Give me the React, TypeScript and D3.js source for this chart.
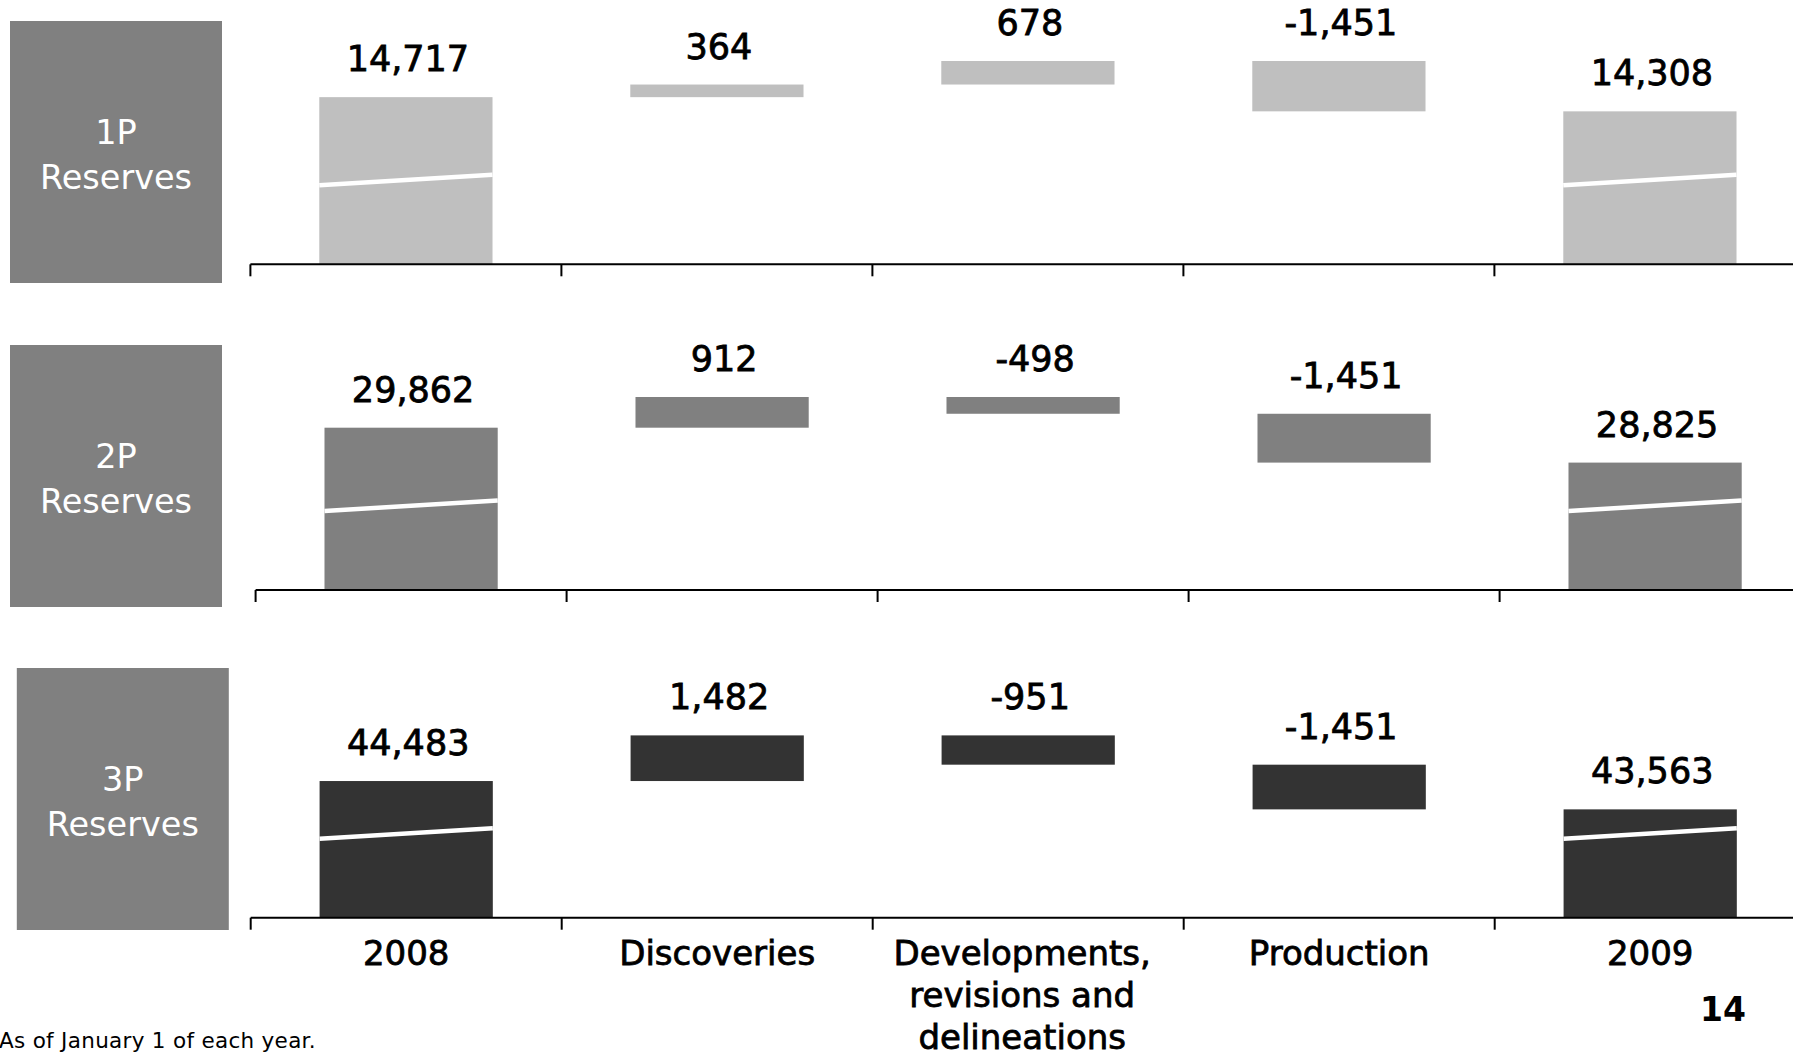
import React from "react";
import * as d3 from "d3";

// ---------- data ----------
const categories = ["2008", "Discoveries", "Developments", "Production", "2009"];
const categoryLines = [
  ["2008"],
  ["Discoveries"],
  ["Developments,", "revisions and", "delineations"],
  ["Production"],
  ["2009"],
];
const panelNames = ["1P", "2P", "3P"];
const opening2008 = [14717, 29862, 44483];
const discoveries = [364, 912, 1482];
const developments = [678, -498, -951];
const production = [-1451, -1451, -1451];
const closing2009 = [14308, 28825, 43563];
// broken-axis floor value for each panel (value at the baseline)
const axisFloor = [9900, 25040, 40045];
const footnote = "As of January 1 of each year.";
const pageNumber = "14";

// ---------- layout / style ----------
const W = 1793;
const H = 1058;
const barColors = ["#bfbfbf", "#808080", "#333333"];
const boxColor = "#808080";
const axisY = [264.3, 590, 917.7];
const plotTop = [61, 397, 735.4];
const axisX0 = [250.4, 255.6, 250.7];
const step = 311;
const boxX = [10, 10, 16.8];
const boxY = [21, 345, 668];
const boxW = 212;
const boxH = 262;
const FONT = "'DejaVu Sans', sans-serif";

const fmt = d3.formatLocale({
  decimal: ".",
  thousands: ",",
  grouping: [3],
  currency: ["$", ""],
  minus: "-",
}).format(",");

type Bar = { cat: string; y0: number; y1: number; label: number; total: boolean };

function buildBars(p: number): Bar[] {
  const a = opening2008[p];
  const b = a + discoveries[p];
  const c = b + developments[p];
  const d = c + production[p];
  return [
    { cat: categories[0], y0: axisFloor[p], y1: a, label: a, total: true },
    { cat: categories[1], y0: a, y1: b, label: discoveries[p], total: false },
    { cat: categories[2], y0: b, y1: c, label: developments[p], total: false },
    { cat: categories[3], y0: c, y1: d, label: production[p], total: false },
    { cat: categories[4], y0: axisFloor[p], y1: closing2009[p], label: closing2009[p], total: true },
  ];
}

function Panel({ p }: { p: number }) {
  const bars = buildBars(p);
  const maxV = d3.max(bars, (b) => Math.max(b.y0, b.y1)) as number;
  const y = d3.scaleLinear().domain([axisFloor[p], maxV]).range([axisY[p], plotTop[p]]);
  const x = d3
    .scaleBand<string>()
    .domain(categories)
    .range([axisX0[p], axisX0[p] + step * categories.length])
    .paddingInner(0.443)
    .paddingOuter(0.2215);
  const bw = x.bandwidth();
  const ticks = d3.range(categories.length + 1).map((i) => axisX0[p] + i * x.step());
  const ay = axisY[p];
  return (
    <g>
      <rect x={boxX[p]} y={boxY[p]} width={boxW} height={boxH} fill={boxColor} />
      <text
        x={boxX[p] + boxW / 2}
        y={boxY[p] + boxH / 2 - 8.5}
        textAnchor="middle"
        fill="#fff"
        fontFamily={FONT}
        fontSize={33.5}
      >
        {panelNames[p]}
      </text>
      <text
        x={boxX[p] + boxW / 2}
        y={boxY[p] + boxH / 2 + 36.5}
        textAnchor="middle"
        fill="#fff"
        fontFamily={FONT}
        fontSize={33.5}
      >
        Reserves
      </text>
      {bars.map((b, i) => {
        const x0 = x(b.cat) as number;
        const top = y(Math.max(b.y0, b.y1));
        const bot = y(Math.min(b.y0, b.y1));
        return (
          <g key={i}>
            <rect x={x0} y={top} width={bw} height={bot - top} fill={barColors[p]} />
            {b.total && (
              <line
                x1={x0}
                x2={x0 + bw}
                y1={ay - 79}
                y2={ay - 89.5}
                stroke="#fff"
                strokeWidth={4.5}
              />
            )}
            <text
              x={x0 + bw / 2 + 2}
              y={top - 26}
              textAnchor="middle"
              fontFamily={FONT}
              fontSize={35}
              fill="#000"
              stroke="#000"
              strokeWidth={0.8}
            >
              {fmt(b.label)}
            </text>
          </g>
        );
      })}
      <line x1={axisX0[p]} x2={W + 20} y1={ay} y2={ay} stroke="#000" strokeWidth={2} />
      {ticks.map((t, i) => (
        <line key={i} x1={t} x2={t} y1={ay} y2={ay + 12} stroke="#000" strokeWidth={2} />
      ))}
      {p === panelNames.length - 1 &&
        categories.map((c, i) => (
          <text
            key={c}
            x={(x(c) as number) + bw / 2}
            y={965}
            textAnchor="middle"
            fontFamily={FONT}
            fontSize={34}
            fill="#000"
            stroke="#000"
            strokeWidth={0.8}
          >
            {categoryLines[i].map((ln, j) => (
              <tspan key={j} x={(x(c) as number) + bw / 2 - (categoryLines[i].length > 1 ? 6 : 0)} dy={j === 0 ? 0 : 42}>
                {ln}
              </tspan>
            ))}
          </text>
        ))}
    </g>
  );
}

export default function App() {
  return (
    <div style={{ position: "absolute", left: 0, top: 0, width: W, height: H, background: "#fff" }}>
      <svg width={W} height={H} style={{ display: "block" }}>
        <rect width={W} height={H} fill="#fff" />
        {panelNames.map((_, p) => (
          <Panel key={p} p={p} />
        ))}
        <text x={-1} y={1048.3} fontFamily={FONT} fontSize={21.5} fill="#000" letterSpacing={0.3}>
          {footnote}
        </text>
        <text
          x={1723}
          y={1020.7}
          textAnchor="middle"
          fontFamily={FONT}
          fontSize={33}
          fontWeight="bold"
          fill="#000"
        >
          {pageNumber}
        </text>
      </svg>
    </div>
  );
}
